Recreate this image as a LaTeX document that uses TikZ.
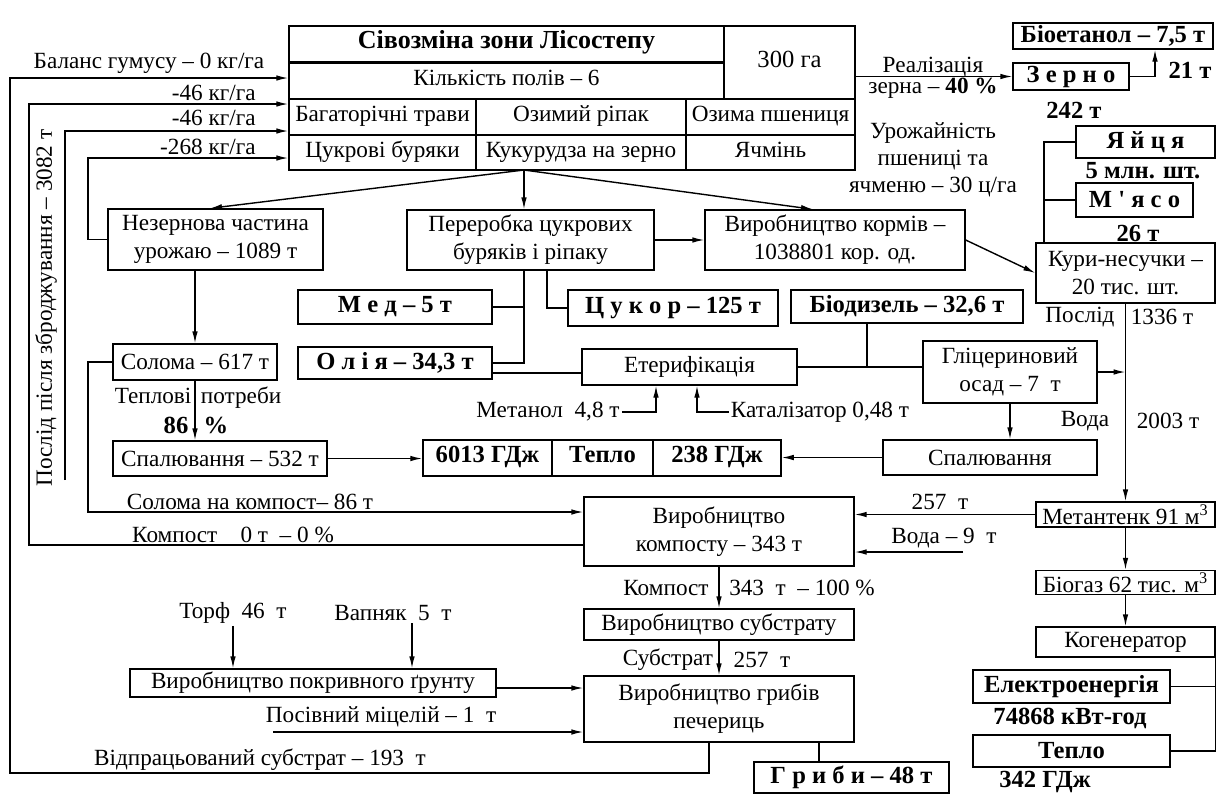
\documentclass[tikz,border=0pt]{standalone}
\usepackage{fontspec}
\setmainfont{Liberation Serif}
\usetikzlibrary{arrows.meta,positioning,calc}
\newcommand{\dfont}{\fontsize{11.6}{14}\selectfont}
\newcommand{\bfont}{\fontsize{12.3}{14}\selectfont\bfseries}

\begin{document}
\begin{tikzpicture}[x=0.5pt, y=-0.5pt,
      every node/.style={font=\dfont, inner sep=1pt},
      box/.style={draw, line width=0.7pt, align=center, inner sep=1pt},
      bbox/.style={box, font=\bfont},
      cell/.style={draw, line width=0.75pt, align=center, inner sep=1pt, text height=0.72em, text depth=0.25em},
      lbl/.style={align=center},
      blbl/.style={font=\bfont},
      ln/.style={line width=0.7pt},
      arr/.style={line width=0.7pt, -{Latex[length=6pt,width=2.8pt]}}
    ]
  \useasboundingbox (0,0) rectangle (1217,794);

  % crop rotation table
  \node[cell, font=\fontsize{13}{15}\selectfont\bfseries, minimum width=217.5pt, minimum height=18pt] (title) at (506.5,44) {Сівозміна зони Лісостепу};
  \node[cell, minimum width=217.5pt, minimum height=18.5pt] (fields) at (506.5,80.5) {Кількість полів – 6};
  \node[cell, font=\fontsize{12.3}{14}\selectfont, minimum width=65.5pt, minimum height=36.5pt] (area) at (789.5,62.5) {300 га};
  \node[cell, minimum width=93.5pt, minimum height=18pt] (row3a) at (382.5,117) {Багаторічні трави};
  \node[cell, minimum width=105pt, minimum height=18pt] (row3b) at (581,117) {Озимий ріпак};
  \node[cell, minimum width=84.5pt, minimum height=18pt] (row3c) at (770.5,117) {Озима пшениця};
  \node[cell, minimum width=93.5pt, minimum height=17.5pt] (row4a) at (382.5,152.5) {Цукрові буряки};
  \node[cell, minimum width=105pt, minimum height=17.5pt] (row4b) at (581,152.5) {Кукурудза на зерно};
  \node[cell, minimum width=84.5pt, minimum height=17.5pt] (row4c) at (770.5,152.5) {Ячмінь};
  \draw[line width=1.4pt] (title.south west) -- (title.south east);

  % boxes
  \node[bbox, minimum width=100pt, minimum height=13pt] (bioet) at (1113,36) {Біоетанол – 7,5 т};
  \node[bbox, minimum width=58pt, minimum height=13.5pt] (zerno) at (1071,76.5) {З е р н о};
  \node[bbox, minimum width=69.5pt, minimum height=16pt] (eggs) at (1145.5,142) {Я й ц я};
  \node[bbox, minimum width=58.5pt, minimum height=17pt] (meat) at (1134.5,200) {М \textquotesingle\ я с о};
  \node[box, minimum width=89.5pt, minimum height=30pt] (kury) at (1125.5,273) {Кури-несучки –\\20 тис. шт.};
  \node[box, minimum width=107.5pt, minimum height=30.5pt] (nezern) at (215.5,239.5) {Незернова частина\\урожаю – 1089 т};
  \node[box, minimum width=123.5pt, minimum height=30pt] (pererob) at (530.5,240) {Переробка цукрових\\буряків і ріпаку};
  \node[box, minimum width=130pt, minimum height=30pt] (korm) at (835,240) {Виробництво кормів –\\1038801 кор. од.};
  \node[bbox, minimum width=97pt, minimum height=17pt] (med) at (395,307) {М е д – 5 т};
  \node[bbox, minimum width=97pt, minimum height=16pt] (oliya) at (395,363) {О л і я – 34,3 т};
  \node[bbox, minimum width=105pt, minimum height=18pt] (tsukor) at (673,308) {Ц у к о р – 125 т};
  \node[bbox, minimum width=116pt, minimum height=16.5pt] (biodiz) at (907,306.5) {Біодизель – 32,6 т};
  \node[box, minimum width=107.5pt, minimum height=18pt] (eter) at (689.5,367) {Етерифікація};
  \node[box, minimum width=87pt, minimum height=31pt] (glits) at (1010,372) {Гліцериновий\\осад – 7\ \ т};
  \node[box, minimum width=82pt, minimum height=18pt] (solom) at (195,362) {Солома – 617 т};
  \node[box, minimum width=107pt, minimum height=17.5pt] (spal1) at (220,458.5) {Спалювання – 532 т};
  \node[cell, font=\bfont, minimum width=64.5pt, minimum height=18pt] (h1) at (487.5,458) {6013 ГДж};
  \node[cell, font=\bfont, minimum width=50.5pt, minimum height=18pt] (h2) at (602.5,458) {Тепло};
  \node[cell, font=\bfont, minimum width=64pt, minimum height=18pt] (h3) at (717,458) {238 ГДж};
  \node[box, minimum width=107pt, minimum height=17.5pt] (spal2) at (990,457.5) {Спалювання};
  \node[box, minimum width=135pt, minimum height=34.5pt] (kompost) at (719,531.5) {Виробництво\\компосту – 343 т};
  \node[box, minimum width=89.5pt, minimum height=12.5pt] (metan) at (1125.5,514.5) {Метантенк 91 м\textsuperscript{3}};
  \node[box, minimum width=89.5pt, minimum height=12pt] (biogas) at (1125.5,582.5) {Біогаз 62 тис. м\textsuperscript{3}};
  \node[box, minimum width=89.5pt, minimum height=15pt] (kogen) at (1125.5,642) {Когенератор};
  \node[bbox, minimum width=98.5pt, minimum height=16.5pt] (elektro) at (1071.5,686.5) {Електроенергія};
  \node[bbox, minimum width=98.5pt, minimum height=16pt] (teplo) at (1071.5,751) {Тепло};
  \node[box, minimum width=135pt, minimum height=15.5pt] (substr) at (719,624.5) {Виробництво субстрату};
  \node[box, minimum width=135pt, minimum height=33pt] (grib) at (719,709) {Виробництво грибів\\печериць};
  \node[box, minimum width=183pt, minimum height=14pt] (pokryv) at (313,683) {Виробництво покривного ґрунту};
  \node[bbox, minimum width=97.5pt, minimum height=15.5pt] (hryby) at (851.5,777.5) {Г р и б и – 48 т};

  % labels
  \node[lbl] (balance) at (149,63) {Баланс гумусу – 0 кг/га};
  \node[lbl, anchor=east] (hum1) at (258,93) {-46 кг/га};
  \node[lbl, anchor=east] (hum2) at (258,118) {-46 кг/га};
  \node[lbl, anchor=east] (hum3) at (258,147) {-268 кг/га};
  \node[lbl] (realiz) at (933,67) {Реалізація};
  \node[lbl] (realizb) at (933,88) {зерна – \textbf{40 \%}};
  \node[blbl] (ethin) at (1190,70) {21 т};
  \node[blbl] (zernoq) at (1074,110) {242 т};
  \node[lbl, font=\fontsize{11.6}{13.5}\selectfont] (yield) at (933,160) {Урожайність\\пшениці та\\ячменю – 30 ц/га};
  \node[blbl] (eggsq) at (1143,171) {5 млн. шт.};
  \node[blbl] (meatq) at (1138,233) {26 т};
  \node[lbl] (poslid) at (1080,317) {Послід};
  \node[lbl] (poslidq) at (1162,317) {1336 т};
  \node[lbl] (voda) at (1085,421) {Вода};
  \node[lbl] (vodaq) at (1168,421) {2003 т};
  \node[lbl] (teplpot) at (198,398) {Теплові\, потреби};
  \node[blbl] (pct1) at (176,425) {86};
  \node[blbl] (pct2) at (216,425) {\%};
  \node[lbl] (metanol) at (548,412) {Метанол\ \ 4,8 т};
  \node[lbl] (katal) at (820,412) {Каталізатор 0,48 т};
  \node[lbl] (strawc) at (250,502) {Солома на компост– 86 т};
  \node[lbl] (compost0) at (233,535) {Компост\quad 0 т\ \ – 0 \%};
  \node[lbl] (m257) at (940,502) {257\ \ т};
  \node[lbl] (voda9) at (944,538) {Вода – 9\ \ т};
  \node[lbl] (komp343a) at (666,588) {Компост};
  \node[lbl] (komp343b) at (802,588) {343\ \ т\ \ – 100 \%};
  \node[lbl] (substra) at (668,660) {Субстрат};
  \node[lbl] (substrb) at (762,660) {257\ \ т};
  \node[lbl] (torf) at (233,613) {Торф\ \ 46\ \ т};
  \node[lbl] (vapn) at (393,613) {Вапняк\ \ 5\ \ т};
  \node[lbl] (mycel) at (381,717) {Посівний міцелій – 1\ \ т};
  \node[lbl] (spent) at (260,760) {Відпрацьований субстрат – 193\ \ т};
  \node[blbl] (elq) at (1070,718) {74868 кВт-год};
  \node[blbl] (heatq) at (1045,782) {342 ГДж};
  \node[lbl, rotate=90] (manure) at (46,308) {Послід після зброджування – 3082 т};

  % routing points
  \coordinate (fan) at (524,170);
  \coordinate (lpA) at (10,773);
  \coordinate (lpB) at (29,104);
  \coordinate (lpC) at (65,480);
  \coordinate (lpD) at (88,512);
  \coordinate (lpE) at (88,158);
  \coordinate (vodaIn) at (963,552);
  \coordinate (mycIn) at (273,732);
  \coordinate (kuryUp) at ([xshift=-40.75pt]kury.north);
  \coordinate (oilOut) at ([yshift=-5pt]oliya.east);
  \coordinate (dieselIn) at ([xshift=-20pt]biodiz.south);
  \coordinate (soilOut) at ([yshift=-2.5pt]pokryv.east);
  \coordinate (limeOut) at ([xshift=9.5pt]vapn.south);
  \coordinate (mushOut) at ([xshift=50pt]grib.south);

  % humus loops
  \draw[arr] ([xshift=-5pt]grib.south) |- (lpA) |- ([yshift=1.25pt]fields.west);
  \draw[arr] ([yshift=-6.75pt]kompost.west) -| (lpB) -- (lpB -| row3a.west);
  \draw[arr] (lpC) |- ([yshift=-7pt]row3a.west);
  \draw[arr] (nezern.west) -| (lpE) -- (lpE -| row4a.west);
  \draw[arr] (solom.west) -| (lpD) -- (lpD -| kompost.west);

  % grain and poultry
  \draw[arr] (zerno.west -| area.east) -- (zerno.west);
  \draw[arr] (zerno.east) -| ([xshift=21pt]bioet.south);
  \draw[ln] (kuryUp) |- (eggs.west);
  \draw[ln] (meat.west) -- (meat.west -| kuryUp);

  % processing
  \draw[arr] (fan) -- ([xshift=-2.75pt]nezern.north);
  \draw[arr] (fan) -- (fan |- pererob.north);
  \draw[arr] (fan) -- ([xshift=-11pt]korm.north);
  \draw[arr] (pererob.east) -- (korm.west);
  \draw[arr] (korm.east) -- (kury.west);
  \draw[ln] (fan |- pererob.south) |- (oliya.east);
  \draw[ln] (med.east) -- (med.east -| fan);
  \draw[ln] ([xshift=8.25pt]pererob.south) |- (tsukor.west);
  \draw[ln] (oilOut) -- (oilOut -| eter.west);
  \draw[ln] (eter.east) -- (eter.east -| glits.west);
  \draw[ln] (dieselIn) -- (dieselIn |- eter.east);
  \draw[arr] (metanol.east) -| ([xshift=-16.75pt]eter.south);
  \draw[arr] (katal.west) -| ([xshift=3.75pt]eter.south);
  \draw[arr] (glits.east) -- (glits.east -| kury.south);
  \draw[arr] (glits.south) -- (glits.south |- spal2.north);
  \draw[arr] (spal2.west) -- (spal2.west -| h3.east);
  \draw[arr] (spal1.east) -- (spal1.east -| h1.west);
  \draw[arr] (solom.north |- nezern.south) -- (solom.north);
  \draw[arr] (solom.south) -- (solom.south |- spal1.north);

  % biogas
  \draw[arr] (kury.south) -- (kury.south |- metan.north);
  \draw[arr] (metan.south) -- (biogas.north);
  \draw[arr] (biogas.south) -- (kogen.north);
  \draw[ln] (kogen.south east) |- (teplo.east);
  \draw[ln] (elektro.east) -- (elektro.east -| kogen.east);
  \draw[arr] (metan.west) -- (metan.west -| kompost.east);
  \draw[arr] (vodaIn) -- (vodaIn -| kompost.east);

  % mushrooms
  \draw[arr] (kompost.south) -- (substr.north);
  \draw[arr] (substr.south) -- (grib.north);
  \draw[arr] (soilOut) -- (soilOut -| grib.west);
  \draw[arr] (torf.south) -- (torf.south |- pokryv.north);
  \draw[arr] (limeOut) -- (limeOut |- pokryv.north);
  \draw[arr] (mycIn) -- (mycIn -| grib.west);
  \draw[ln] (mushOut) -- (mushOut |- hryby.north);
\end{tikzpicture}
\end{document}
